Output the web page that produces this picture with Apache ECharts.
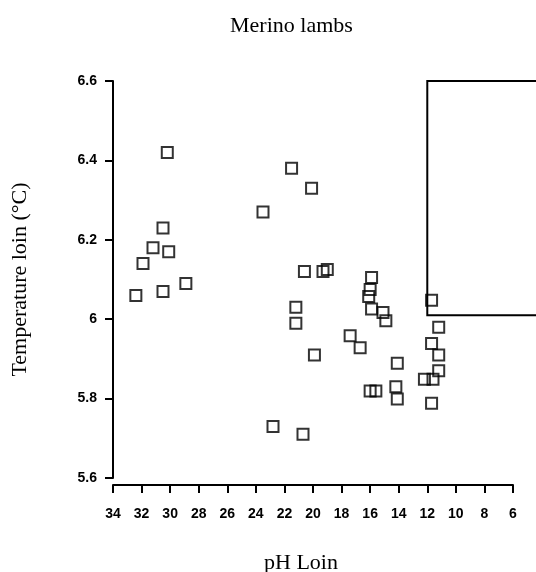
<!DOCTYPE html>
<html>
<head>
<meta charset="utf-8">
<script src="https://cdn.jsdelivr.net/npm/echarts@6/dist/echarts.min.js"></script>
<style>
  html, body { margin: 0; padding: 0; background: #fff; }
  #chart { width: 536px; height: 572px; }
</style>
</head>
<body>
<div id="chart"></div>
<script>
// scatter values
var phLoin = [30.2, 30.5, 31.2, 30.1, 31.9, 32.4, 30.5, 28.9, 23.5, 22.8,
              21.5, 20.1, 20.6, 19.3, 19.0, 15.9, 16.0, 16.1, 15.9, 15.1,
              14.9, 21.2, 21.2, 11.7, 11.2, 17.4, 16.7, 19.9, 11.7, 11.2,
              14.1, 11.2, 12.2, 11.6, 16.0, 15.6, 14.2, 14.1, 11.7, 20.7];
var tempLoin = [6.42, 6.23, 6.18, 6.17, 6.14, 6.06, 6.07, 6.09, 6.27, 5.73,
                6.38, 6.33, 6.12, 6.12, 6.125, 6.105, 6.075, 6.057, 6.026, 6.017,
                5.996, 6.03, 5.99, 6.048, 5.98, 5.958, 5.928, 5.91, 5.939, 5.91,
                5.889, 5.87, 5.849, 5.849, 5.819, 5.819, 5.83, 5.799, 5.788, 5.71];

// outline box in the upper right: left edge at x=12, from y=6.01 to 6.6,
// open towards the right (runs off the picture)
var boxLeft = [12];
var boxBottom = [6.01];
var boxTop = [6.6];

var points = [];
for (var i = 0; i < phLoin.length; i++) {
  points.push([phLoin[i], tempLoin[i]]);
}

var myChart = echarts.init(document.getElementById('chart'));
var option = {
  backgroundColor: '#fff',
  animation: false,
  title: {
    text: 'Merino lambs',
    left: 225,
    top: 10,
    textStyle: {
      fontFamily: 'Liberation Serif',
      fontSize: 22,
      fontWeight: 'normal',
      color: '#000'
    }
  },
  grid: { left: 113, right: 23, top: 81, bottom: 94, containLabel: false, outerBoundsMode: 'none' },
  xAxis: {
    type: 'value',
    inverse: true,
    min: 6,
    max: 34,
    interval: 2,
    offset: 7,
    name: 'pH Loin',
    nameLocation: 'middle',
    nameGap: 67,
    nameTextStyle: { fontFamily: 'Liberation Serif', fontSize: 22, color: '#000', padding: [0, 24, 0, 0] },
    axisLine: { lineStyle: { color: '#000', width: 2 } },
    axisTick: { length: 8, lineStyle: { color: '#000', width: 2 } },
    axisLabel: { margin: 22, fontFamily: 'Liberation Sans', fontSize: 14, fontWeight: 'bold', color: '#000' },
    splitLine: { show: false }
  },
  yAxis: {
    type: 'value',
    min: 5.6,
    max: 6.6,
    interval: 0.2,
    name: 'Temperature loin (°C)',
    nameLocation: 'middle',
    nameGap: 82,
    nameTextStyle: { fontFamily: 'Liberation Serif', fontSize: 22, color: '#000' },
    axisLine: { lineStyle: { color: '#000', width: 2 } },
    axisTick: { length: 8, lineStyle: { color: '#000', width: 2 } },
    axisLabel: { margin: 16, fontFamily: 'Liberation Sans', fontSize: 14, fontWeight: 'bold', color: '#000' },
    splitLine: { show: false }
  },
  series: [
    {
      type: 'scatter',
      data: points,
      symbol: 'rect',
      symbolSize: 11,
      itemStyle: { color: 'rgba(0,0,0,0)', borderColor: '#000', borderWidth: 2 }
    },
    {
      type: 'custom',
      clip: false,
      data: [[boxLeft[0], boxBottom[0], boxTop[0]]],
      renderItem: function (params, api) {
        var lo = api.coord([api.value(0), api.value(1)]);
        var hi = api.coord([api.value(0), api.value(2)]);
        var farRight = api.getWidth() + 10;
        return {
          type: 'polyline',
          shape: { points: [[farRight, lo[1]], lo, hi, [farRight, hi[1]]] },
          style: { stroke: '#000', lineWidth: 2, fill: null }
        };
      }
    }
  ]
};
myChart.setOption(option, true);
</script>
</body>
</html>
